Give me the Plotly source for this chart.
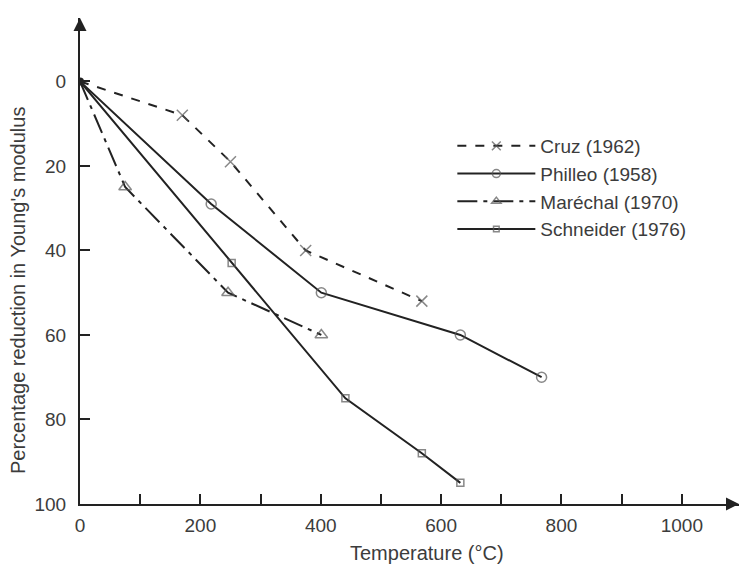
import plotly.graph_objects as go

# Data
cruz_t = [0, 170, 250, 375, 568]
cruz_r = [0, 8, 19, 40, 52]
philleo_t = [0, 218, 401, 632, 767]
philleo_r = [0, 29, 50, 60, 70]
marechal_t = [0, 75, 246, 401]
marechal_r = [0, 25, 50, 60]
schneider_t = [0, 252, 441, 568, 632]
schneider_r = [0, 43, 75, 88, 95]

x_tickvals = list(range(0, 1001, 100))
x_ticktext = [str(v) if v % 200 == 0 else "" for v in x_tickvals]
y_tickvals = [0, 20, 40, 60, 80, 100]

LINE = "#222222"
MARK = "#555555"
TXT = "#3c3c3c"
FONT = "Liberation Sans, Arial, sans-serif"
FS = 20
TFS = 19

series = [
    ("Cruz (1962)", cruz_t, cruz_r, "dash", "x-thin-open", 11),
    ("Philleo (1958)", philleo_t, philleo_r, "solid", "circle-open", 10),
    ("Maréchal (1970)", marechal_t, marechal_r, "20px,6px,4px,6px", "triangle-up-open", 11),
    ("Schneider (1976)", schneider_t, schneider_r, "solid", "square-open", 7),
]

fig = go.Figure()
for name, t, r, dash, sym, sz in series:
    sizes = [0] + [sz] * (len(t) - 1)
    fig.add_trace(go.Scatter(
        x=t, y=r, name=name, mode="lines+markers",
        line=dict(color=LINE, width=2, dash=dash),
        marker=dict(symbol=sym, size=sizes, color=MARK,
                    line=dict(color=MARK, width=1.5)),
    ))

# shared origin point drawn as a small filled dot
fig.add_trace(go.Scatter(
    x=[cruz_t[0]], y=[cruz_r[0]], mode="markers", showlegend=False,
    marker=dict(symbol="circle", size=8, color=LINE), hoverinfo="skip",
))

fig.update_layout(
    width=740, height=567,
    margin=dict(l=80, r=1, t=18, b=63),
    paper_bgcolor="white", plot_bgcolor="white",
    font=dict(family=FONT, size=FS, color=TXT),
    showlegend=True,
    legend=dict(x=0.565, y=1 - (127 - 18) / 486, xanchor="left", yanchor="top",
                bgcolor="rgba(0,0,0,0)", itemwidth=78,
                font=dict(size=TFS, color=TXT), tracegroupgap=0),
    xaxis=dict(range=[0, 1095], showgrid=False, zeroline=False,
               showline=True, linecolor=LINE, linewidth=2,
               tickvals=x_tickvals, ticktext=x_ticktext,
               ticks="inside", ticklen=10, tickwidth=2, tickcolor=LINE,
               ticklabelstandoff=3,
               tickfont=dict(size=TFS, color=TXT)),
    yaxis=dict(range=[100, -15], showgrid=False, zeroline=False,
               showline=True, linecolor=LINE, linewidth=2,
               tickvals=y_tickvals,
               ticks="inside", ticklen=10, tickwidth=2, tickcolor=LINE,
               ticklabelstandoff=8,
               tickfont=dict(size=TFS, color=TXT)),
    annotations=[
        dict(x=0, y=-15, xref="x", yref="y", ax=0, ay=14,
             showarrow=True, arrowhead=2, arrowsize=1.3, arrowwidth=2, arrowcolor=LINE, text=""),
        dict(x=1095, y=100, xref="x", yref="y", ax=-14, ay=0,
             showarrow=True, arrowhead=2, arrowsize=1.3, arrowwidth=2, arrowcolor=LINE, text=""),
        dict(x=(427 - 80) / 659, y=-(553 - 504) / 486, xref="paper", yref="paper", showarrow=False,
             text="Temperature (°C)", font=dict(size=FS, color=TXT),
             xanchor="center", yanchor="middle"),
        dict(x=-(80 - 18) / 659, y=49.6, xref="paper", yref="y", showarrow=False,
             text="Percentage reduction in Young's modulus", textangle=-90,
             font=dict(size=FS, color=TXT), xanchor="center", yanchor="middle"),
    ],
)

fig.write_html("out.html")
